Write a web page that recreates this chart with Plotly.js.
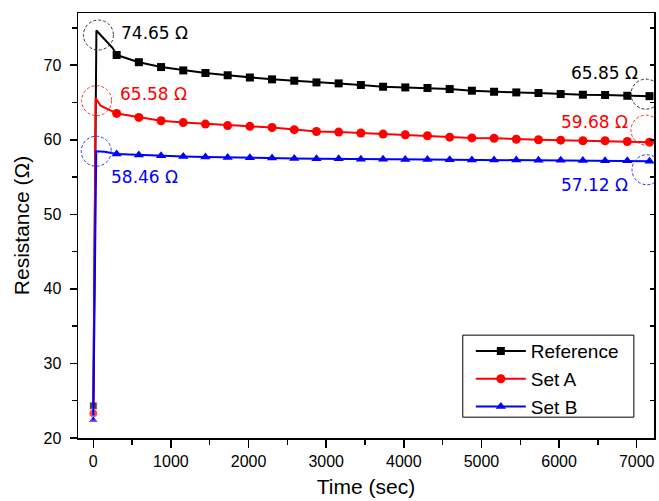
<!DOCTYPE html>
<html>
<head>
<meta charset="utf-8">
<script src="https://cdn.plot.ly/plotly-3.0.1.min.js"></script>
<style>html,body{margin:0;padding:0;background:#fff;}#chart{width:659px;height:501px;}</style>
</head>
<body>
<div id="chart"></div>
<script>
// Sampled (marker) times, seconds
const markerTimes = [301, 587, 873, 1159, 1445, 1731, 2017, 2303, 2589, 2875, 3161, 3447, 3733, 4019, 4305, 4591, 4877, 5163, 5449, 5735, 6021, 6307, 6593, 6879, 7165];
const refValues  = [71.37, 70.4, 69.75, 69.3, 68.95, 68.65, 68.35, 68.1, 67.92, 67.69, 67.56, 67.34, 67.11, 67.02, 66.94, 66.8, 66.58, 66.44, 66.35, 66.27, 66.13, 66.04, 66.0, 65.9, 65.85];
const setAValues = [63.53, 63.0, 62.55, 62.3, 62.1, 61.9, 61.8, 61.65, 61.35, 61.11, 61.03, 60.9, 60.76, 60.67, 60.54, 60.35, 60.25, 60.2, 60.07, 60.0, 59.95, 59.87, 59.87, 59.77, 59.68];
const setBValues = [58.08, 57.95, 57.85, 57.76, 57.7, 57.63, 57.6, 57.55, 57.5, 57.45, 57.45, 57.4, 57.38, 57.35, 57.35, 57.33, 57.3, 57.3, 57.28, 57.25, 57.25, 57.22, 57.2, 57.18, 57.12];

// Initial rise (start point, peak, early decay)
const refSpikeTimes  = [0, 40, 250, 301];
const refSpikeValues = [24.3, 74.65, 72.3, 71.37];
const setASpikeTimes  = [0, 30, 95, 232, 301];
const setASpikeValues = [23.3, 65.58, 64.56, 63.9, 63.53];
const setBSpikeTimes  = [0, 38, 145, 301];
const setBSpikeValues = [22.4, 58.46, 58.4, 58.08];

const seriesNames = ['Reference', 'Set A', 'Set B'];
const peakLabels = ['74.65 Ω', '65.58 Ω', '58.46 Ω'];
const endLabels  = ['65.85 Ω', '59.68 Ω', '57.12 Ω'];
const xTickVals = [0, 1000, 2000, 3000, 4000, 5000, 6000, 7000];
const yTickVals = [20, 30, 40, 50, 60, 70];

const colors = ['#000000', '#ff0000', '#0000ff'];
const circleColors = ['#333333', '#ff3030', '#3030ff'];
const symbols = ['square', 'circle', 'triangle-up'];
const msizes = [8, 9, 9];

const mains = [refValues, setAValues, setBValues];
const spikeT = [refSpikeTimes, setASpikeTimes, setBSpikeTimes];
const spikeV = [refSpikeValues, setASpikeValues, setBSpikeValues];

const traces = [];
for (let i = 0; i < 3; i++) {
  traces.push({
    x: spikeT[i], y: spikeV[i], type: 'scatter', mode: 'lines+markers',
    showlegend: false, hoverinfo: 'skip',
    line: {color: colors[i], width: 2},
    marker: {color: colors[i], symbol: symbols[i], size: spikeV[i].map((v, k) => k === 0 ? msizes[i] : 0)}
  });
  traces.push({
    x: markerTimes, y: mains[i], type: 'scatter', mode: 'lines+markers', name: seriesNames[i],
    line: {color: colors[i], width: 2},
    marker: {color: colors[i], symbol: symbols[i], size: msizes[i]}
  });
}
// invisible trace for right axis
traces.push({x: [markerTimes[0]], y: [refValues[0]], yaxis: 'y2', mode: 'markers', marker: {opacity: 0}, showlegend: false, hoverinfo: 'skip'});

function circle(i, tx, vy, dx, dy, r) {
  return {type: 'circle', xref: 'x', yref: 'y', xsizemode: 'pixel', ysizemode: 'pixel',
    xanchor: tx, yanchor: vy, x0: dx - r, x1: dx + r, y0: dy - r, y1: dy + r,
    line: {color: circleColors[i], width: 1, dash: '3px,2px'}, layer: 'above'};
}
const last = markerTimes.length - 1;
const shapes = [
  // legend frame
  {type: 'rect', xref: 'paper', yref: 'paper', x0: 0.668, x1: 0.965, y0: 0.049, y1: 0.242,
   fillcolor: '#ffffff', line: {color: '#000', width: 1}, layer: 'above'},
  circle(0, refSpikeTimes[1], refSpikeValues[1], 2, -4.5, 15),
  circle(1, setASpikeTimes[1], setASpikeValues[1], 1, -2.5, 15),
  circle(2, setBSpikeTimes[1], setBSpikeValues[1], 0, 0, 15),
  circle(0, markerTimes[last], refValues[last], -3.5, 2, 15),
  circle(1, markerTimes[last], setAValues[last], -3.5, 12, 15),
  circle(2, markerTimes[last], setBValues[last], -2.5, -8.5, 15)
];

const annFont = (c) => ({family: 'DejaVu Sans, Verdana, sans-serif', size: 17, color: c});
const annotations = [
  {text: peakLabels[0], x: 0.071, y: 0.953, xanchor: 'left', font: annFont(colors[0])},
  {text: peakLabels[1], x: 0.069, y: 0.809, xanchor: 'left', font: annFont(colors[1])},
  {text: peakLabels[2], x: 0.053, y: 0.614, xanchor: 'left', font: annFont(colors[2])},
  {text: endLabels[0], x: 0.975, y: 0.860, xanchor: 'right', font: annFont(colors[0])},
  {text: endLabels[1], x: 0.959, y: 0.744, xanchor: 'right', font: annFont(colors[1])},
  {text: endLabels[2], x: 0.959, y: 0.595, xanchor: 'right', font: annFont(colors[2])}
].map(a => Object.assign({xref: 'paper', yref: 'paper', yanchor: 'middle', showarrow: false}, a));

const axisFont = {family: 'Arial, Liberation Sans, sans-serif', size: 16, color: '#000'};
const layout = {
  width: 659, height: 501,
  margin: {l: 78, r: 5, t: 13, b: 63},
  paper_bgcolor: '#fff', plot_bgcolor: '#fff',
  font: {family: 'Arial, Liberation Sans, sans-serif', color: '#000'},
  showlegend: true,
  legend: {x: 0.682, y: 0.249, xanchor: 'left', yanchor: 'top', bgcolor: 'rgba(0,0,0,0)',
    borderwidth: 0, font: {family: 'Arial, Liberation Sans, sans-serif', size: 19, color: '#000'},
    tracegroupgap: 0, itemwidth: 50},
  xaxis: {
    range: [-197, 7223], tickvals: xTickVals, ticks: 'outside', ticklen: 8, tickwidth: 1.5, tickcolor: '#000',
    minor: {dtick: 500, tick0: 0, ticks: 'outside', ticklen: 5, tickwidth: 1.5, tickcolor: '#000', showgrid: false},
    showline: true, linecolor: '#000', linewidth: 1.5, mirror: true, showgrid: false, zeroline: false,
    tickfont: axisFont, title: {text: 'Time (sec)', font: {family: 'Arial, Liberation Sans, sans-serif', size: 21, color: '#000'}, standoff: 10}
  },
  yaxis: {
    range: [20, 77], tickvals: yTickVals, ticks: 'outside', ticklen: 7, tickwidth: 1.5, tickcolor: '#000',
    ticklabelstandoff: 5,
    minor: {dtick: 5, tick0: 0, ticks: 'outside', ticklen: 5, tickwidth: 1.5, tickcolor: '#000', showgrid: false},
    showline: true, linecolor: '#000', linewidth: 1.5, mirror: true, showgrid: false, zeroline: false,
    tickfont: axisFont, title: {text: 'Resistance (Ω)', font: {family: 'Arial, Liberation Sans, sans-serif', size: 21, color: '#000'}, standoff: 8}
  },
  yaxis2: {
    overlaying: 'y', side: 'right', matches: 'y', range: [20, 77], tickvals: yTickVals, ticks: 'inside', ticklen: 4, tickwidth: 1.5, tickcolor: '#000',
    minor: {dtick: 5, tick0: 0, ticks: 'inside', ticklen: 4, tickwidth: 1.5, tickcolor: '#000', showgrid: false},
    showticklabels: false, showline: false, showgrid: false, zeroline: false
  },
  shapes: shapes,
  annotations: annotations
};

Plotly.newPlot('chart', traces, layout, {displayModeBar: false, staticPlot: true});
</script>
</body>
</html>
